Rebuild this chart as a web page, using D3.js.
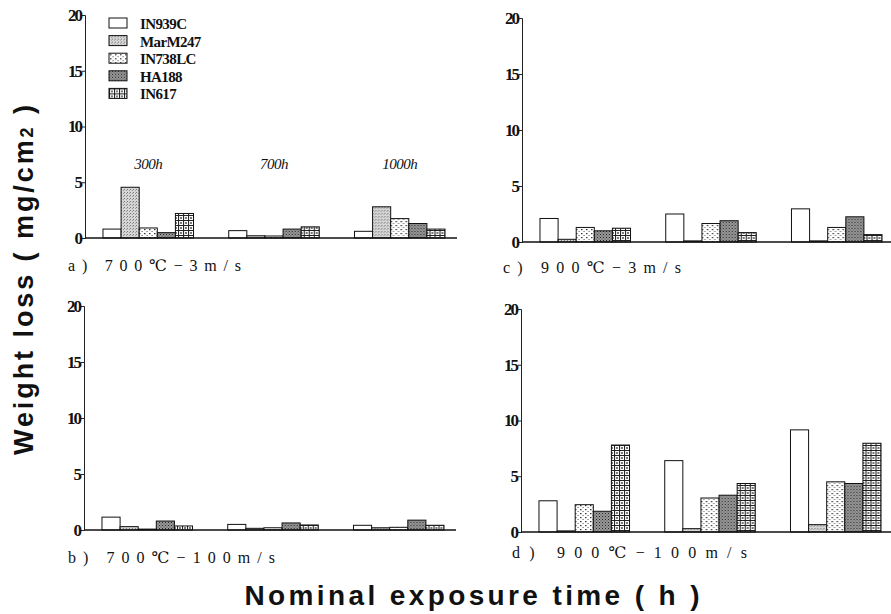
<!DOCTYPE html>
<html>
<head>
<meta charset="utf-8">
<script src="https://cdn.jsdelivr.net/npm/d3@7"></script>
<style>
  body { margin: 0; background: #fff; }
  svg { display: block; }
</style>
</head>
<body>
<svg id="chart" width="891" height="614"></svg>
<script>
// Data (rows = exposure time, columns = alloy)
const groups = ["300h", "700h", "1000h"];
const alloys = ["IN939C", "MarM247", "IN738LC", "HA188", "IN617"];
const yTicks = [0, 5, 10, 15, 20];

const lossA = [[0.8, 4.55, 0.9, 0.48, 2.2], [0.66, 0.2, 0.18, 0.8, 1.0], [0.6, 2.8, 1.74, 1.3, 0.8]];
const lossB = [[1.15, 0.3, 0.08, 0.8, 0.36], [0.5, 0.15, 0.2, 0.63, 0.45], [0.42, 0.2, 0.24, 0.88, 0.42]];
const lossC = [[2.1, 0.24, 1.3, 1.0, 1.23], [2.5, 0.1, 1.65, 1.9, 0.84], [2.96, 0.1, 1.3, 2.25, 0.66]];
const lossD = [[2.8, 0.1, 2.45, 1.86, 7.8], [6.4, 0.3, 3.05, 3.3, 4.35], [9.16, 0.66, 4.5, 4.35, 7.96]];

const svg = d3.select("#chart");

// hatch patterns
const defs = svg.append("defs");
function pat(id, w, h, bg, draw) {
    const p = defs.append("pattern").attr("id", id)
        .attr("patternUnits", "userSpaceOnUse").attr("width", w).attr("height", h);
    p.append("rect").attr("width", w).attr("height", h).attr("fill", bg);
    draw(p);
}
pat("p-mar", 3, 3, "#d6d6d6", p => {
    p.append("rect").attr("x", 0).attr("y", 0).attr("width", 1).attr("height", 1).attr("fill", "#777");
    p.append("rect").attr("x", 2).attr("y", 1).attr("width", 1).attr("height", 1).attr("fill", "#999");
});
pat("p-738", 5, 4, "#fff", p => {
    p.append("rect").attr("x", 1).attr("y", 1).attr("width", 1.5).attr("height", 1.2).attr("fill", "#333");
    p.append("rect").attr("x", 3.5).attr("y", 3).attr("width", 1.2).attr("height", 1).attr("fill", "#666");
});
pat("p-ha", 3, 3, "#9a9a9a", p => {
    p.append("rect").attr("x", 0).attr("y", 0).attr("width", 1).attr("height", 1).attr("fill", "#222");
    p.append("rect").attr("x", 1.5).attr("y", 1.5).attr("width", 1).attr("height", 1).attr("fill", "#444");
});
pat("p-617", 5, 5, "#fff", p => {
    p.append("path").attr("d", "M0,0.5H5M0.5,0V5").attr("stroke", "#222").attr("stroke-width", 1.2);
    p.append("path").attr("d", "M2,2L4,4M4,2L2,4").attr("stroke", "#555").attr("stroke-width", 0.8);
});
const fills = d3.scaleOrdinal().domain(alloys)
    .range(["#fff", "url(#p-mar)", "url(#p-738)", "url(#p-ha)", "url(#p-617)"]);

const panels = [
    { data: lossA, x0: 85, y0: 238, y1: 15, title: "a) 700℃−3m/s", tx: 68, ty: 271, tl: 173, legend: true },
    { data: lossB, x0: 84, y0: 530, y1: 306, title: "b) 700℃−100m/s", tx: 68, ty: 563, tl: 207 },
    { data: lossC, x0: 522, y0: 242, y1: 18, title: "c) 900℃−3m/s", tx: 503, ty: 273, tl: 178 },
    { data: lossD, x0: 521, y0: 532, y1: 309, title: "d) 900℃−100m/s", tx: 512, ty: 558, tl: 235 }
];

const serif = "'Liberation Serif', 'DejaVu Serif', serif";

panels.forEach(function (pn) {
    const g = svg.append("g");

    const y = d3.scaleLinear().domain([0, 20]).range([pn.y0, pn.y1]);
    const x = d3.scaleBand().domain(groups)
        .range([pn.x0, pn.x0 + 378])
        .paddingInner(0.28).paddingOuter(0.143);
    const xs = d3.scaleBand().domain(alloys).range([0, x.bandwidth()]);

    // bars
    g.selectAll("g.grp")
        .data(pn.data)
        .enter().append("g")
        .attr("class", "grp")
        .attr("transform", (d, i) => "translate(" + x(groups[i]) + ",0)")
        .selectAll("rect")
        .data(d => d.map((v, j) => ({ alloy: alloys[j], v: v })))
        .enter().append("rect")
        .attr("x", d => xs(d.alloy))
        .attr("y", d => y(d.v))
        .attr("width", xs.bandwidth())
        .attr("height", d => y(0) - y(d.v))
        .attr("fill", d => fills(d.alloy))
        .attr("stroke", "#111")
        .attr("stroke-width", 1);

    // y axis
    const ax = g.append("g")
        .attr("transform", "translate(" + pn.x0 + ",0)")
        .call(d3.axisLeft(y).tickValues(yTicks).tickSize(3).tickPadding(1));
    ax.select(".domain").attr("stroke", "#222");
    ax.selectAll(".tick line").attr("stroke", "#222");
    ax.selectAll(".tick text")
        .attr("font-family", serif).attr("font-weight", "bold")
        .attr("font-size", 17).attr("fill", "#111").attr("letter-spacing", -2);

    // baseline
    g.append("line")
        .attr("x1", pn.x0).attr("x2", pn.x0 + 372)
        .attr("y1", y(0)).attr("y2", y(0))
        .attr("stroke", "#111").attr("stroke-width", 1.6);

    // panel caption
    g.append("text")
        .attr("x", pn.tx).attr("y", pn.ty)
        .attr("textLength", pn.tl).attr("lengthAdjust", "spacing")
        .attr("font-family", serif).attr("font-size", 16).attr("fill", "#111")
        .text(pn.title);

    if (pn.legend) {
        // exposure time labels
        g.selectAll("text.grp-label")
            .data(groups)
            .enter().append("text")
            .attr("class", "grp-label")
            .attr("x", d => x(d) + x.bandwidth() / 2)
            .attr("y", 169)
            .attr("text-anchor", "middle")
            .attr("font-family", serif).attr("font-style", "italic")
            .attr("font-size", 15).attr("fill", "#111").attr("letter-spacing", -0.5)
            .text(d => d);

        const leg = g.selectAll("g.leg")
            .data(alloys)
            .enter().append("g")
            .attr("class", "leg")
            .attr("transform", (d, i) => "translate(109," + (18 + i * 17.6) + ")");
        leg.append("rect")
            .attr("width", 18).attr("height", 10)
            .attr("fill", d => fills(d))
            .attr("stroke", "#111");
        leg.append("text")
            .attr("x", 31).attr("y", 11)
            .attr("font-family", serif).attr("font-weight", "bold")
            .attr("font-size", 15).attr("fill", "#111").attr("letter-spacing", -0.6)
            .text(d => d);
    }
});

// axis titles
const yt = svg.append("text")
    .attr("transform", "translate(33,280) rotate(-90)")
    .attr("text-anchor", "middle")
    .attr("textLength", 350).attr("lengthAdjust", "spacing")
    .attr("font-family", "'Liberation Sans', Arial, sans-serif")
    .attr("font-weight", "bold").attr("font-size", 27).attr("fill", "#111");
yt.append("tspan").text("Weight loss ( mg/cm");
yt.append("tspan").attr("font-size", 18).text("2");
yt.append("tspan").text(" )");

svg.append("text")
    .attr("x", 472).attr("y", 605)
    .attr("text-anchor", "middle")
    .attr("textLength", 455).attr("lengthAdjust", "spacing")
    .attr("font-family", "'Liberation Sans', Arial, sans-serif")
    .attr("font-weight", "bold").attr("font-size", 28).attr("fill", "#111")
    .text("Nominal exposure time ( h )");
</script>
</body>
</html>
